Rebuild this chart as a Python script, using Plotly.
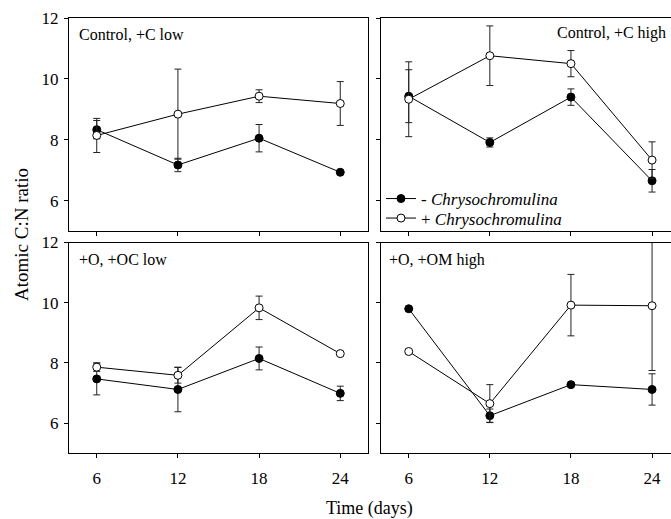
import plotly.graph_objects as go

days = [6, 12, 18, 24]

panel_titles = ["Control, +C low", "Control, +C high", "+O, +OC low", "+O, +OM high"]

# - Chrysochromulina (filled) and + Chrysochromulina (open)
ctrl_low_minus = [8.33, 7.17, 8.05, 6.93]
ctrl_low_minus_err = [0.30, 0.22, 0.45, 0.0]
ctrl_low_plus = [8.14, 8.84, 9.43, 9.19]
ctrl_low_plus_err = [0.56, 1.48, 0.21, 0.72]

ctrl_high_minus = [9.43, 7.91, 9.40, 6.65]
ctrl_high_minus_err = [0.87, 0.15, 0.27, 0.37]
ctrl_high_plus = [9.33, 10.76, 10.50, 7.33]
ctrl_high_plus_err = [1.23, 0.98, 0.43, 0.60]

oc_low_minus = [7.47, 7.12, 8.15, 6.99]
oc_low_minus_err = [0.53, 0.74, 0.38, 0.24]
oc_low_plus = [7.86, 7.59, 9.83, 8.31]
oc_low_plus_err = [0.14, 0.26, 0.39, 0.0]

om_high_minus = [9.80, 6.25, 7.28, 7.12]
om_high_minus_err = [0.0, 0.22, 0.0, 0.52]
om_high_plus = [8.38, 6.65, 9.92, 9.90]
om_high_plus_err = [0.0, 0.63, 1.02, 2.15]

x_ticks = [6, 12, 18, 24]
y_ticks = [6, 8, 10, 12]

W, H = 671, 519
FONT = "Liberation Serif, Times New Roman, serif"

panels = [
    (ctrl_low_minus, ctrl_low_minus_err, ctrl_low_plus, ctrl_low_plus_err),
    (ctrl_high_minus, ctrl_high_minus_err, ctrl_high_plus, ctrl_high_plus_err),
    (oc_low_minus, oc_low_minus_err, oc_low_plus, oc_low_plus_err),
    (om_high_minus, om_high_minus_err, om_high_plus, om_high_plus_err),
]

# pixel geometry of the panels (left, right, top, bottom)
geo = [
    (69, 368, 18, 231),
    (381, 671, 18, 231),
    (69, 368, 242.5, 453.3),
    (381, 671, 242.5, 453.3),
]
xranges = [[3.95, 26.05], [3.95, 25.4], [3.95, 26.05], [3.95, 25.4]]

fig = go.Figure()
errc = "#222222"
for i, (mn, mne, pl, ple) in enumerate(panels):
    ax = "" if i == 0 else str(i + 1)
    fig.add_trace(go.Scatter(
        x=days, y=mn, xaxis="x" + ax, yaxis="y" + ax,
        mode="lines+markers", name="- <i>Chrysochromulina</i>",
        legend="legend", showlegend=(i == 0),
        line=dict(color="black", width=1),
        marker=dict(symbol="circle", size=8, color="black", line=dict(color="black", width=1)),
        error_y=dict(type="data", array=mne, visible=True, color=errc, thickness=1, width=3.5),
    ))
    fig.add_trace(go.Scatter(
        x=days, y=pl, xaxis="x" + ax, yaxis="y" + ax,
        mode="lines+markers", name="+ <i>Chrysochromulina</i>",
        legend="legend2", showlegend=(i == 0),
        line=dict(color="black", width=1),
        marker=dict(symbol="circle", size=8, color="white", line=dict(color="black", width=1)),
        error_y=dict(type="data", array=ple, visible=True, color=errc, thickness=1, width=3.5),
    ))

leg_common = dict(
    xanchor="left", yanchor="middle",
    bgcolor="rgba(0,0,0,0)", borderwidth=0,
    font=dict(family=FONT, size=17, color="black"),
)

layout = dict(
    width=W, height=H, autosize=False,
    margin=dict(l=0, r=0, t=0, b=0, pad=0, autoexpand=False),
    paper_bgcolor="white", plot_bgcolor="white",
    font=dict(family=FONT, size=17, color="black"),
    showlegend=True,
    legend=dict(x=381 / W, y=1 - 199 / H, **leg_common),
    legend2=dict(x=381 / W, y=1 - 218.5 / H, **leg_common),
)

annotations = []
for i in range(4):
    l, r, t, b = geo[i]
    ax = "" if i == 0 else str(i + 1)
    right = (i % 2 == 1)
    bottom = (i >= 2)
    layout["xaxis" + ax] = dict(
        domain=[l / W, r / W], range=xranges[i], anchor="y" + ax,
        tickvals=x_ticks, ticktext=[str(v) for v in x_ticks],
        showticklabels=bottom, ticks="outside", ticklen=4, tickwidth=1, tickcolor="black",
        showline=True, linecolor="black", linewidth=1, mirror=True,
        showgrid=False, zeroline=False, ticklabelstandoff=5, automargin=False,
        tickfont=dict(family=FONT, size=17, color="black"),
    )
    layout["yaxis" + ax] = dict(
        domain=[1 - b / H, 1 - t / H], range=[5, 12], anchor="x" + ax,
        tickvals=y_ticks, showticklabels=not right,
        ticks="outside", ticklen=4, tickwidth=1, tickcolor="black",
        showline=True, linecolor="black", linewidth=1, mirror=(not right),
        showgrid=False, zeroline=False, ticklabelstandoff=2, automargin=False,
        tickfont=dict(family=FONT, size=17, color="black"),
    )

label_pos = [(77, 35), (555, 33), (77, 259), (387, 260)]
for (px, py), txt in zip(label_pos, panel_titles):
    annotations.append(dict(
        text=txt, xref="paper", yref="paper", x=px / W, y=1 - py / H,
        xanchor="left", yanchor="middle", showarrow=False,
        font=dict(family=FONT, size=16, color="black"),
    ))

annotations.append(dict(
    text="Atomic C:N ratio", xref="paper", yref="paper", x=21 / W, y=1 - 235 / H,
    xanchor="center", yanchor="middle", textangle=-90, showarrow=False,
    font=dict(family=FONT, size=19, color="black"),
))
annotations.append(dict(
    text="Time (days)", xref="paper", yref="paper", x=370 / W, y=1 - 508 / H,
    xanchor="center", yanchor="middle", showarrow=False,
    font=dict(family=FONT, size=18, color="black"),
))
layout["annotations"] = annotations

fig.update_layout(**layout)
fig.write_html(
    "out.html",
    config={"displayModeBar": False},
    post_script="document.body.style.margin='0';document.body.style.overflow='hidden';",
)
